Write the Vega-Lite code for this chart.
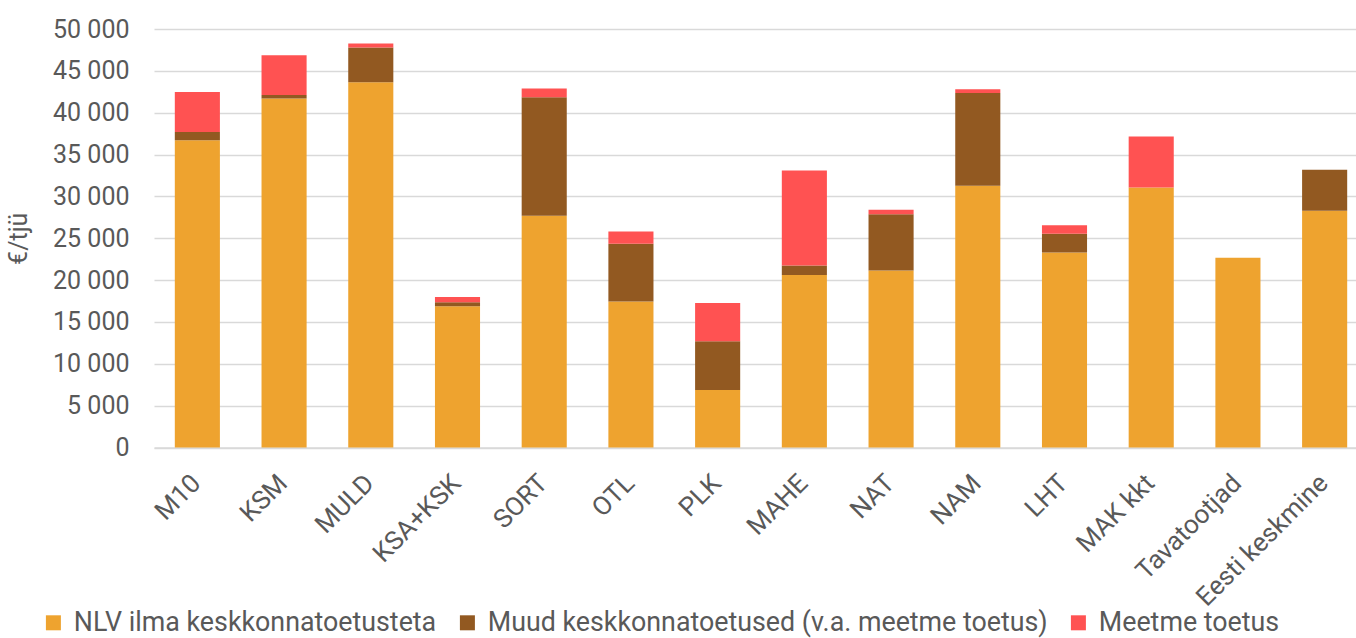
{
  "$schema": "https://vega.github.io/schema/vega-lite/v6.json",
  "autosize": "none",
  "width": 1214,
  "height": 418.5,
  "padding": {"left": 154, "top": 29, "right": 0, "bottom": 191},
  "background": "white",
  "config": {
    "font": "Roboto",
    "view": {"stroke": null}
  },
  "data": {
    "values": [
      {"grupp": "M10", "seeria": "NLV ilma keskkonnatoetusteta", "k": 1, "v": 36700},
      {"grupp": "M10", "seeria": "Muud keskkonnatoetused (v.a. meetme toetus)", "k": 2, "v": 1000},
      {"grupp": "M10", "seeria": "Meetme toetus", "k": 3, "v": 4780},
      {"grupp": "KSM", "seeria": "NLV ilma keskkonnatoetusteta", "k": 1, "v": 41700},
      {"grupp": "KSM", "seeria": "Muud keskkonnatoetused (v.a. meetme toetus)", "k": 2, "v": 400},
      {"grupp": "KSM", "seeria": "Meetme toetus", "k": 3, "v": 4750},
      {"grupp": "MULD", "seeria": "NLV ilma keskkonnatoetusteta", "k": 1, "v": 43650},
      {"grupp": "MULD", "seeria": "Muud keskkonnatoetused (v.a. meetme toetus)", "k": 2, "v": 4150},
      {"grupp": "MULD", "seeria": "Meetme toetus", "k": 3, "v": 480},
      {"grupp": "KSA+KSK", "seeria": "NLV ilma keskkonnatoetusteta", "k": 1, "v": 16870},
      {"grupp": "KSA+KSK", "seeria": "Muud keskkonnatoetused (v.a. meetme toetus)", "k": 2, "v": 470},
      {"grupp": "KSA+KSK", "seeria": "Meetme toetus", "k": 3, "v": 650},
      {"grupp": "SORT", "seeria": "NLV ilma keskkonnatoetusteta", "k": 1, "v": 27700},
      {"grupp": "SORT", "seeria": "Muud keskkonnatoetused (v.a. meetme toetus)", "k": 2, "v": 14150},
      {"grupp": "SORT", "seeria": "Meetme toetus", "k": 3, "v": 1030},
      {"grupp": "OTL", "seeria": "NLV ilma keskkonnatoetusteta", "k": 1, "v": 17430},
      {"grupp": "OTL", "seeria": "Muud keskkonnatoetused (v.a. meetme toetus)", "k": 2, "v": 6900},
      {"grupp": "OTL", "seeria": "Meetme toetus", "k": 3, "v": 1470},
      {"grupp": "PLK", "seeria": "NLV ilma keskkonnatoetusteta", "k": 1, "v": 6870},
      {"grupp": "PLK", "seeria": "Muud keskkonnatoetused (v.a. meetme toetus)", "k": 2, "v": 5810},
      {"grupp": "PLK", "seeria": "Meetme toetus", "k": 3, "v": 4590},
      {"grupp": "MAHE", "seeria": "NLV ilma keskkonnatoetusteta", "k": 1, "v": 20620},
      {"grupp": "MAHE", "seeria": "Muud keskkonnatoetused (v.a. meetme toetus)", "k": 2, "v": 1110},
      {"grupp": "MAHE", "seeria": "Meetme toetus", "k": 3, "v": 11370},
      {"grupp": "NAT", "seeria": "NLV ilma keskkonnatoetusteta", "k": 1, "v": 21140},
      {"grupp": "NAT", "seeria": "Muud keskkonnatoetused (v.a. meetme toetus)", "k": 2, "v": 6730},
      {"grupp": "NAT", "seeria": "Meetme toetus", "k": 3, "v": 530},
      {"grupp": "NAM", "seeria": "NLV ilma keskkonnatoetusteta", "k": 1, "v": 31270},
      {"grupp": "NAM", "seeria": "Muud keskkonnatoetused (v.a. meetme toetus)", "k": 2, "v": 11070},
      {"grupp": "NAM", "seeria": "Meetme toetus", "k": 3, "v": 450},
      {"grupp": "LHT", "seeria": "NLV ilma keskkonnatoetusteta", "k": 1, "v": 23290},
      {"grupp": "LHT", "seeria": "Muud keskkonnatoetused (v.a. meetme toetus)", "k": 2, "v": 2240},
      {"grupp": "LHT", "seeria": "Meetme toetus", "k": 3, "v": 1030},
      {"grupp": "MAK kkt", "seeria": "NLV ilma keskkonnatoetusteta", "k": 1, "v": 31070},
      {"grupp": "MAK kkt", "seeria": "Muud keskkonnatoetused (v.a. meetme toetus)", "k": 2, "v": 0},
      {"grupp": "MAK kkt", "seeria": "Meetme toetus", "k": 3, "v": 6100},
      {"grupp": "Tavatootjad", "seeria": "NLV ilma keskkonnatoetusteta", "k": 1, "v": 22660},
      {"grupp": "Tavatootjad", "seeria": "Muud keskkonnatoetused (v.a. meetme toetus)", "k": 2, "v": 0},
      {"grupp": "Tavatootjad", "seeria": "Meetme toetus", "k": 3, "v": 0},
      {"grupp": "Eesti keskmine", "seeria": "NLV ilma keskkonnatoetusteta", "k": 1, "v": 28280},
      {"grupp": "Eesti keskmine", "seeria": "Muud keskkonnatoetused (v.a. meetme toetus)", "k": 2, "v": 4900},
      {"grupp": "Eesti keskmine", "seeria": "Meetme toetus", "k": 3, "v": 0}
    ]
  },
  "mark": {"type": "bar"},
  "encoding": {
    "x": {
      "field": "grupp",
      "type": "nominal",
      "sort": null,
      "title": null,
      "scale": {"paddingInner": 0.48, "paddingOuter": 0.24},
      "axis": {
        "labelAngle": -45,
        "labelFontSize": 26,
        "labelColor": "#595959",
        "labelPadding": 22,
        "labelOffset": -10,
        "labelLimit": 0,
        "ticks": false,
        "domain": true,
        "domainColor": "#d9d9d9",
        "domainWidth": 1.5
      }
    },
    "y": {
      "field": "v",
      "type": "quantitative",
      "stack": "zero",
      "title": "€/tjü",
      "scale": {"domain": [0, 50000], "nice": false},
      "axis": {
        "values": [0, 5000, 10000, 15000, 20000, 25000, 30000, 35000, 40000, 45000, 50000],
        "labelExpr": "replace(format(datum.value, ','), ',', ' ')",
        "labelFontSize": 25,
        "labelColor": "#595959",
        "labelPadding": 25,
        "ticks": false,
        "domain": false,
        "gridColor": "#d9d9d9",
        "gridWidth": 1.5,
        "titleFontSize": 25,
        "titleFontWeight": "normal",
        "titleColor": "#595959",
        "titlePadding": 21
      }
    },
    "color": {
      "field": "seeria",
      "type": "nominal",
      "scale": {
        "domain": ["NLV ilma keskkonnatoetusteta", "Muud keskkonnatoetused (v.a. meetme toetus)", "Meetme toetus"],
        "range": ["#EEA32F", "#925921", "#FF5252"]
      },
      "legend": {
        "title": null,
        "orient": "none",
        "legendX": -114,
        "legendY": 580,
        "direction": "horizontal",
        "symbolType": "square",
        "symbolSize": 225,
        "symbolStrokeWidth": 0,
        "labelFontSize": 26.8,
        "labelColor": "#595959",
        "labelOffset": 7,
        "labelLimit": 0,
        "columnPadding": 17
      }
    },
    "order": {"field": "k", "type": "quantitative"}
  }
}
